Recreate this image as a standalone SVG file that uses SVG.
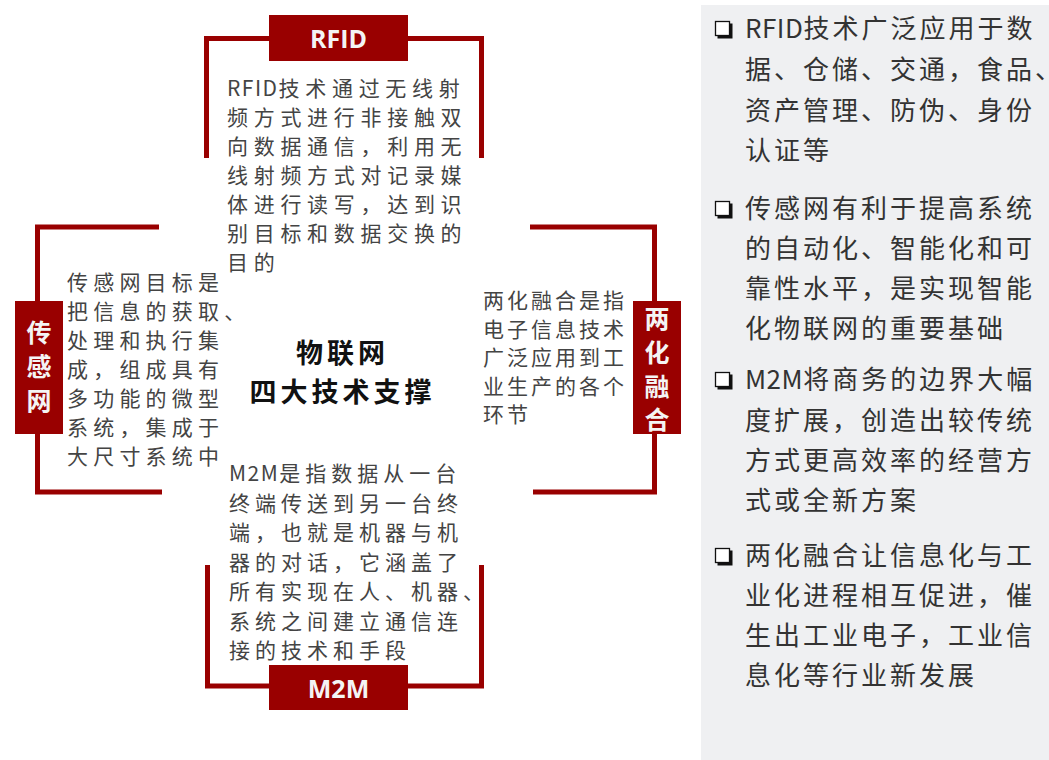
<svg xmlns="http://www.w3.org/2000/svg" width="1049" height="760" viewBox="0 0 1049 760">
<style>
.br{fill:none;stroke:#990000;stroke-width:5;stroke-linejoin:miter}
.box{fill:#990000}
.lbl{font-family:"Open Sans","Noto Sans CJK SC",sans-serif;font-weight:bold;font-size:25px;fill:#f4f4f4;text-anchor:middle}
.vl{font-family:"Noto Sans CJK SC",sans-serif;font-weight:bold;font-size:25px;fill:#f4f4f4;text-anchor:middle}
.body{font-family:"Noto Sans CJK SC",sans-serif;font-size:21px;fill:#444}
.ctr{font-family:"Noto Sans CJK SC",sans-serif;font-weight:bold;font-size:27px;fill:#111;text-anchor:middle;letter-spacing:4px}
.side{font-family:"Noto Sans CJK SC",sans-serif;font-size:26px;fill:#333;letter-spacing:3px}
.lat{letter-spacing:1.5px}
.lat0{letter-spacing:0.5px}
.bul{fill:#fff;stroke:#111;stroke-width:1.3}
</style>
<rect id="panel" x="701" y="5" width="348" height="755" fill="#eff0f2"/>
<g id="connectors">
<polyline class="br" points="206.5,158 206.5,38.5 481.5,38.5 481.5,158"/>
<polyline class="br" points="159,227 37.5,227 37.5,492 162,492"/>
<polyline class="br" points="530,227 654.5,227 654.5,492 533,492"/>
<polyline class="br" points="207.5,565 207.5,686 481.5,686 481.5,565"/>
</g>
<g id="rfid">
<rect class="box" x="269" y="15" width="139" height="46"/>
<text class="lbl" x="338.5" y="48">RFID</text>
<text class="body" style="letter-spacing:5.7px">
<tspan x="227" y="96"><tspan class="lat">RFID</tspan>技术通过无线射</tspan>
<tspan x="227" y="125">频方式进行非接触双</tspan>
<tspan x="227" y="154">向数据通信，利用无</tspan>
<tspan x="227" y="183">线射频方式对记录媒</tspan>
<tspan x="227" y="212">体进行读写，达到识</tspan>
<tspan x="227" y="241">别目标和数据交换的</tspan>
<tspan x="227" y="270">目的</tspan>
</text>
</g>
<g id="sensor">
<rect class="box" x="15" y="301" width="48" height="133"/>
<text class="vl"><tspan x="39" y="342">传</tspan><tspan x="39" y="376">感</tspan><tspan x="39" y="410">网</tspan></text>
<text class="body" style="letter-spacing:5.2px">
<tspan x="67" y="290">传感网目标是</tspan>
<tspan x="67" y="319">把信息的获取、</tspan>
<tspan x="67" y="348">处理和执行集</tspan>
<tspan x="67" y="377">成，组成具有</tspan>
<tspan x="67" y="406">多功能的微型</tspan>
<tspan x="67" y="435">系统，集成于</tspan>
<tspan x="67" y="464">大尺寸系统中</tspan>
</text>
</g>
<g id="fusion">
<rect class="box" x="633" y="301" width="48" height="133"/>
<text class="vl"><tspan x="657" y="328">两</tspan><tspan x="657" y="361.5">化</tspan><tspan x="657" y="395.5">融</tspan><tspan x="657" y="429">合</tspan></text>
<text class="body" style="letter-spacing:3px">
<tspan x="483" y="308">两化融合是指</tspan>
<tspan x="483" y="336.5">电子信息技术</tspan>
<tspan x="483" y="365">广泛应用到工</tspan>
<tspan x="483" y="393.5">业生产的各个</tspan>
<tspan x="483" y="422">环节</tspan>
</text>
</g>
<g id="m2m">
<rect class="box" x="269" y="665" width="139" height="45"/>
<text class="lbl" x="338.5" y="698">M2M</text>
<text class="body" style="letter-spacing:5px">
<tspan x="229" y="481"><tspan class="lat">M2M</tspan>是指数据从一台</tspan>
<tspan x="229" y="510.5">终端传送到另一台终</tspan>
<tspan x="229" y="540">端，也就是机器与机</tspan>
<tspan x="229" y="569.5">器的对话，它涵盖了</tspan>
<tspan x="229" y="599">所有实现在人、机器、</tspan>
<tspan x="229" y="628.5">系统之间建立通信连</tspan>
<tspan x="229" y="658">接的技术和手段</tspan>
</text>
</g>
<g id="center">
<text class="ctr" x="342.5" y="363">物联网</text>
<text class="ctr" x="342.5" y="402">四大技术支撑</text>
</g>
<g id="notes">
<g id="note1">
<rect x="717.5" y="23.5" width="15" height="15" fill="#111"/><rect class="bul" x="715.5" y="21.5" width="14" height="14"/>
<text class="side"><tspan x="745" y="38"><tspan class="lat0">RFID</tspan>技术广泛应用于数</tspan><tspan x="745" y="79">据、仓储、交通，食品、</tspan><tspan x="745" y="120">资产管理、防伪、身份</tspan><tspan x="745" y="160">认证等</tspan></text>
</g>
<g id="note2">
<rect x="717.5" y="203.5" width="15" height="15" fill="#111"/><rect class="bul" x="715.5" y="201.5" width="14" height="14"/>
<text class="side"><tspan x="745" y="218">传感网有利于提高系统</tspan><tspan x="745" y="258">的自动化、智能化和可</tspan><tspan x="745" y="298">靠性水平，是实现智能</tspan><tspan x="745" y="338">化物联网的重要基础</tspan></text>
</g>
<g id="note3">
<rect x="717.5" y="374.5" width="15" height="15" fill="#111"/><rect class="bul" x="715.5" y="372.5" width="14" height="14"/>
<text class="side"><tspan x="745" y="389"><tspan class="lat0">M2M</tspan>将商务的边界大幅</tspan><tspan x="745" y="430">度扩展，创造出较传统</tspan><tspan x="745" y="470">方式更高效率的经营方</tspan><tspan x="745" y="510">式或全新方案</tspan></text>
</g>
<g id="note4">
<rect x="717.5" y="550.5" width="15" height="15" fill="#111"/><rect class="bul" x="715.5" y="548.5" width="14" height="14"/>
<text class="side"><tspan x="745" y="565">两化融合让信息化与工</tspan><tspan x="745" y="605">业化进程相互促进，催</tspan><tspan x="745" y="645">生出工业电子，工业信</tspan><tspan x="745" y="685">息化等行业新发展</tspan></text>
</g>
</g>
</svg>
